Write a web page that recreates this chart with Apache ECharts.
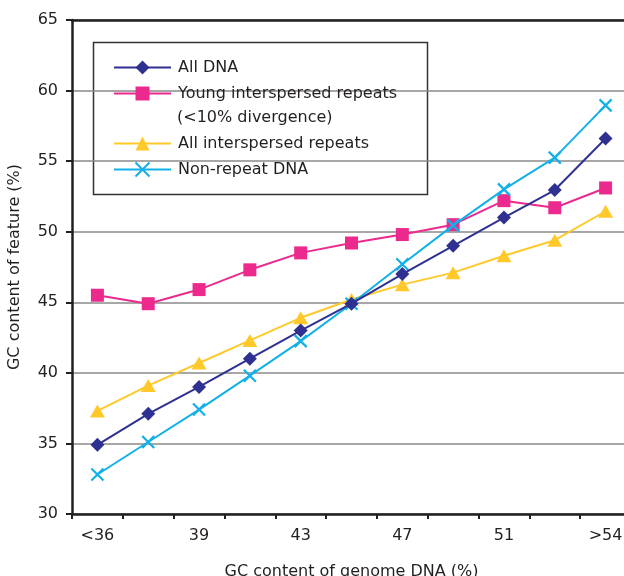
<!DOCTYPE html>
<html>
<head>
<meta charset="utf-8">
<script src="https://cdn.jsdelivr.net/npm/echarts@6/dist/echarts.min.js"></script>
<style>html,body{margin:0;padding:0;background:#fff;}#c{width:624px;height:576px;}</style>
</head>
<body>
<div id="c"></div>
<script>
const categories = ['<36','37','39','41','43','45','47','49','51','53','>54'];
const allDNA = [34.9, 37.1, 39.0, 41.0, 43.0, 44.9, 47.0, 49.0, 51.0, 52.95, 56.6];
const youngRepeats = [45.5, 44.9, 45.9, 47.3, 48.5, 49.2, 49.8, 50.5, 52.2, 51.7, 53.1];
const allRepeats = [37.3, 39.1, 40.7, 42.3, 43.9, 45.2, 46.25, 47.1, 48.3, 49.4, 51.45];
const nonRepeat = [32.8, 35.1, 37.4, 39.8, 42.25, 44.9, 47.7, 50.45, 53.0, 55.25, 58.95];
const yTicks = {min: 30, max: 65, interval: 5};

const FONT = '"DejaVu Sans", "Liberation Sans", Arial, sans-serif';
const TXT = '#231f20';
const C_DNA = '#2e3192', C_YOUNG = '#ec2a8e', C_ALLREP = '#ffc92b', C_NON = '#12b0e8';
const xPath = 'path://M0,0L10,10M10,0L0,10';

const chart = echarts.init(document.getElementById('c'), null, {renderer: 'canvas'});

function legendItem(name, top) {
  return {
    data: [{name: name}],
    left: 108, top: top,
    itemWidth: 57, itemHeight: 17.5,
    itemGap: 0,
    textStyle: {fontFamily: FONT, fontSize: 16, color: TXT, padding: [0,0,0,2]},
    selectedMode: false
  };
}

chart.setOption({
  animation: false,
  grid: {left: 72, top: 20, width: 559, height: 494, containLabel: false, outerBoundsMode: 'none'},
  legend: [
    legendItem('All DNA', 54.5),
    legendItem('Young interspersed repeats', 80.5),
    legendItem('All interspersed repeats', 130.5),
    legendItem('Non-repeat DNA', 156.5)
  ],
  graphic: [
    {type: 'rect', z: 0, shape: {x: 93.5, y: 42.5, width: 334, height: 152},
     style: {fill: '#fff', stroke: '#333', lineWidth: 1.5}},
    {type: 'text', z: 10, left: 177, top: 110,
     style: {text: '(<10% divergence)', font: '16px ' + FONT, fill: TXT}}
  ],
  xAxis: [{
    type: 'category', data: categories, boundaryGap: true,
    name: 'GC content of genome DNA (%)', nameLocation: 'middle', nameGap: 50,
    nameTextStyle: {fontFamily: FONT, fontSize: 16, color: TXT},
    axisLine: {lineStyle: {color: '#231f20', width: 2.5}},
    axisTick: {show: true, interval: 0, length: 5, lineStyle: {color: '#231f20', width: 2}},
    axisLabel: {interval: 1, margin: 14, fontFamily: FONT, fontSize: 16, color: TXT},
    splitLine: {show: false}
  }, {
    type: 'category', data: categories, position: 'top', boundaryGap: true,
    axisLine: {lineStyle: {color: '#231f20', width: 2.5}},
    axisTick: {show: false}, axisLabel: {show: false}, splitLine: {show: false}
  }],
  yAxis: {
    type: 'value', min: yTicks.min, max: yTicks.max, interval: yTicks.interval,
    name: 'GC content of feature (%)', nameLocation: 'middle', nameGap: 49,
    nameTextStyle: {fontFamily: FONT, fontSize: 16, color: TXT},
    axisLine: {show: true, lineStyle: {color: '#231f20', width: 2.5}},
    axisTick: {show: true, length: 6, lineStyle: {color: '#231f20', width: 2}},
    axisLabel: {margin: 14, fontFamily: FONT, fontSize: 16, color: TXT},
    splitLine: {show: true, lineStyle: {color: '#8a8a8a', width: 1.5}}
  },
  series: [
    {name: 'All DNA', type: 'line', data: allDNA, z: 5,
     symbol: 'diamond', symbolSize: 14,
     itemStyle: {color: C_DNA}, lineStyle: {color: C_DNA, width: 2}},
    {name: 'Young interspersed repeats', type: 'line', data: youngRepeats, z: 3,
     symbol: 'rect', symbolSize: 13,
     itemStyle: {color: C_YOUNG}, lineStyle: {color: C_YOUNG, width: 2}},
    {name: 'All interspersed repeats', type: 'line', data: allRepeats, z: 2,
     symbol: 'triangle', symbolSize: [15, 13],
     itemStyle: {color: C_ALLREP}, lineStyle: {color: C_ALLREP, width: 2}},
    {name: 'Non-repeat DNA', type: 'line', data: nonRepeat, z: 4,
     symbol: xPath, symbolSize: 12,
     itemStyle: {color: C_NON, borderColor: C_NON, borderWidth: 2.2}, lineStyle: {color: C_NON, width: 2}}
  ]
});
</script>
</body>
</html>
